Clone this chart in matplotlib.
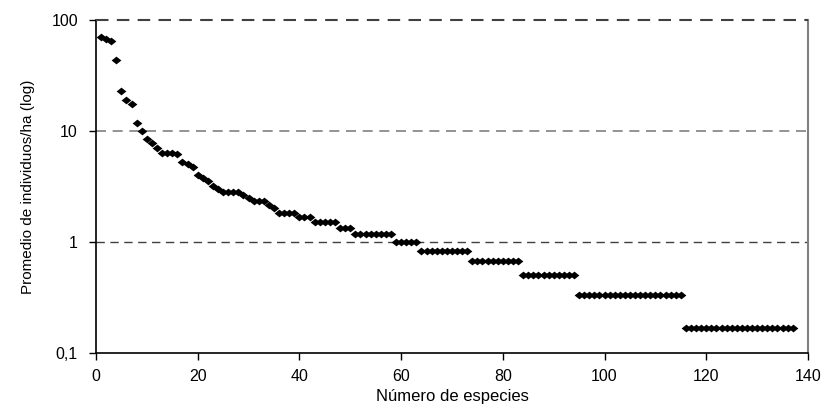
import matplotlib
matplotlib.use("Agg")
import matplotlib.pyplot as plt
from matplotlib.ticker import FixedLocator, NullLocator

# Abundancia promedio por especie (orden de rango)
top_values = [70.0, 67.0, 64.5, 44.0, 23.0, 19.0, 17.5, 11.8, 10.0, 8.5,
              7.8, 7.0, 6.3, 6.3, 6.3, 6.2, 5.2, 5.0, 4.7, 4.0,
              3.8, 3.5, 3.2, 3.0, 2.83, 2.83, 2.83, 2.83, 2.67, 2.5,
              2.33, 2.33, 2.33, 2.17, 2.0, 1.83, 1.83, 1.83, 1.83, 1.67,
              1.67, 1.67, 1.5, 1.5, 1.5, 1.5, 1.5, 1.33, 1.33, 1.33]
# niveles finales (valor, cantidad de especies)
plateau_levels = [1.167, 1.0, 0.833, 0.667, 0.5, 0.333, 0.167]
plateau_counts = [8, 5, 10, 10, 11, 21, 22]

abundance = list(top_values)
for v, n in zip(plateau_levels, plateau_counts):
    abundance += [v] * n
species = list(range(1, len(abundance) + 1))

y_ticks = [0.1, 1, 10, 100]
y_labels = ["0,1", "1", "10", "100"]
x_ticks = [0, 20, 40, 60, 80, 100, 120, 140]

plt.rcParams['font.family'] = ['Liberation Sans', 'DejaVu Sans']

fig = plt.figure(figsize=(8.31, 4.09), dpi=100)
ax = fig.add_axes([0.1155, 0.1376, 0.8568, 0.8134])

# rombo un poco mas ancho que alto
rombo = [(-1, 0), (0, 0.8), (1, 0), (0, -0.8), (-1, 0)]
ax.plot(species, abundance, linestyle='none', marker=rombo, markersize=7,
        color='black', markeredgewidth=0)

ax.set_yscale('log')
ax.set_ylim(0.1, 100)
ax.set_xlim(0, 140)

ax.yaxis.set_major_locator(FixedLocator(y_ticks))
ax.yaxis.set_minor_locator(NullLocator())
ax.set_yticklabels(y_labels)
ax.set_xticks(x_ticks)

# lineas de referencia discontinuas
ax.axhline(10, color='#808080', linestyle=(0, (6, 4)), linewidth=1.2, zorder=0)
ax.axhline(1, color='#404040', linestyle=(0, (6, 4)), linewidth=1.0, zorder=0)
ax.axhline(100, color='#404040', linestyle=(0, (6, 4)), linewidth=1.5, zorder=3,
           clip_on=False)

ax.spines['top'].set_visible(False)
ax.spines['right'].set_color('#808080')
ax.spines['right'].set_linewidth(1.5)
ax.spines['left'].set_linewidth(1.2)
ax.spines['bottom'].set_linewidth(1.2)

ax.tick_params(axis='both', direction='out', length=5, width=1, labelsize=11.5,
               colors='black')
ax.tick_params(axis='y', pad=8)
ax.tick_params(axis='x', pad=7)

ax.set_xlabel("Número de especies", fontsize=12, labelpad=3)
ax.set_ylabel("Promedio de individuos/ha (log)", fontsize=11, labelpad=12)

fig.savefig("out.png", dpi=100)
